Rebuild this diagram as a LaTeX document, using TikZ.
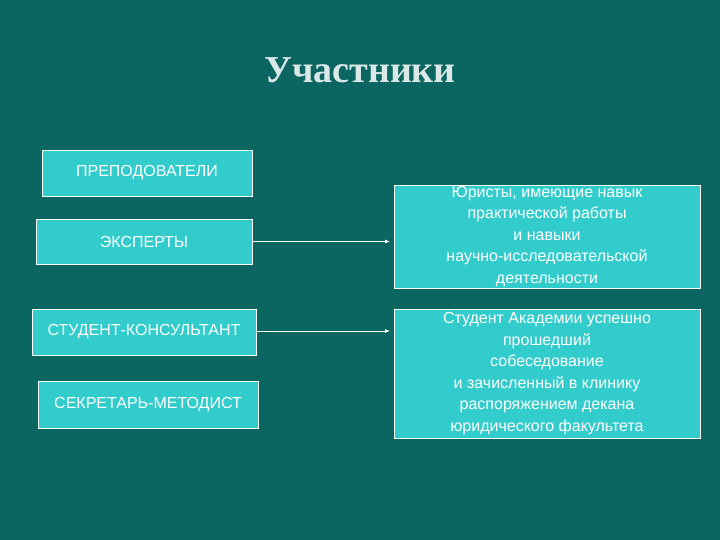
\documentclass[tikz,border=0pt]{standalone}
\usepackage{fontspec}
\setmainfont{Liberation Sans}
\newfontfamily\titlefont{Liberation Serif}
\definecolor{bg}{HTML}{0B6662}
\definecolor{boxc}{HTML}{33CCCC}
\tikzset{
  box/.style={draw=white, line width=0.8pt, fill=boxc, text=white, font=\fontsize{16}{18}\selectfont, align=center, inner sep=0pt},
  conn/.style={draw=white, line width=0.8pt, -{Latex[length=5pt,width=4pt]}}
}
\usetikzlibrary{arrows.meta}
\begin{document}
\begin{tikzpicture}[x=1pt,y=-1pt]
\fill[bg] (0,0) rectangle (720,540);
\useasboundingbox (0,0) rectangle (720,540);
\node[text=white!85!bg, font=\titlefont\bfseries\fontsize{38}{44}\selectfont] (title) at (360,70) {Участники};
\node[box, minimum width=210, minimum height=46] (p) at (147,173) {ПРЕПОДОВАТЕЛИ};
\node[box, minimum width=216, minimum height=45] (e) at (144,241.5) {ЭКСПЕРТЫ};
\node[box, minimum width=224, minimum height=46] (s) at (144,332) {СТУДЕНТ-КОНСУЛЬТАНТ};
\node[box, minimum width=220, minimum height=47] (m) at (148,404.5) {СЕКРЕТАРЬ-МЕТОДИСТ};
\node[box, minimum width=306, minimum height=103, font=\fontsize{16}{21.5}\selectfont] (r1) at (547,236.5) {Юристы, имеющие навык\\практической работы\\и навыки\\научно-исследовательской\\деятельности};
\node[box, minimum width=306, minimum height=129, font=\fontsize{16}{21.5}\selectfont] (r2) at (547,373.5) {Студент Академии успешно\\прошедший\\собеседование\\и зачисленный в клинику\\распоряжением декана\\юридического факультета};
\coordinate (a1) at (390,241.5);
\coordinate (a2) at (390,331);
\draw[conn] (e.east) -- (a1);
\draw[conn] (s.east |- a2) -- (a2);
\end{tikzpicture}
\end{document}
